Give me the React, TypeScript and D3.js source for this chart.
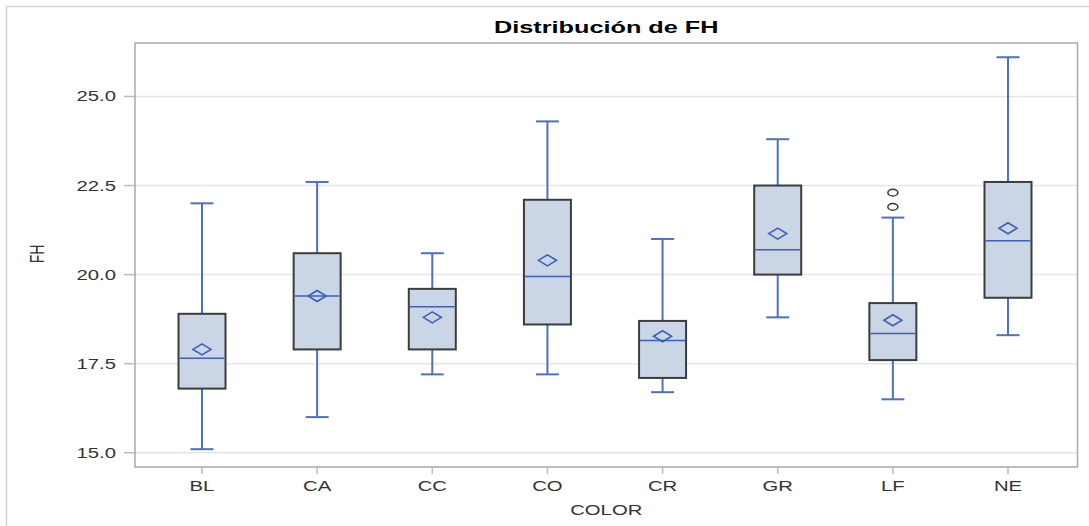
import React from "react";
import * as d3 from "d3";

// box plot stats
const categories = ["BL", "CA", "CC", "CO", "CR", "GR", "LF", "NE"];
const whiskerLow = [15.1, 16.0, 17.2, 17.2, 16.7, 18.8, 16.5, 18.3];
const q1 = [16.8, 17.9, 17.9, 18.6, 17.1, 20.0, 17.6, 19.35];
const median = [17.65, 19.4, 19.1, 19.95, 18.15, 20.7, 18.35, 20.95];
const q3 = [18.9, 20.6, 19.6, 22.1, 18.7, 22.5, 19.2, 22.6];
const whiskerHigh = [22.0, 22.6, 20.6, 24.3, 21.0, 23.8, 21.6, 26.1];
const means = [17.9, 19.4, 18.8, 20.4, 18.27, 21.15, 18.72, 21.3];
const outlierCat = ["LF", "LF"];
const outlierVal = [21.9, 22.3];
const yTicks = [15, 17.5, 20, 22.5, 25];

const W = 1089;
const H = 526;
const SX = 1.45; // the picture is stretched horizontally
const FONT = '"Liberation Sans", Arial, sans-serif';

const App = () => {
  const ref = React.useRef<SVGSVGElement>(null);

  React.useEffect(() => {
    const svg = d3.select(ref.current);
    svg.selectAll("*").remove();

    const left = 135, right = 1077.5, top = 43, bottom = 467;

    const x = d3.scalePoint<string>()
      .domain(categories)
      .range([left + 67, right - 69.5]);
    const y = d3.scaleLinear().domain([14.6, 26.5]).range([bottom, top]);

    const boxW = 47;
    const capW = 23;

    const text = (px: number, py: number, s: string, size: number, anchor: string, weight = "normal", rot = 0, fill = "#333", sx = SX) =>
      svg.append("text")
        .attr("transform", `translate(${px},${py}) scale(${sx},1)` + (rot ? ` rotate(${rot})` : ""))
        .attr("font-family", FONT)
        .attr("font-size", size)
        .attr("font-weight", weight)
        .attr("text-anchor", anchor)
        .attr("fill", fill)
        .text(s);

    // outer frame
    svg.append("rect")
      .attr("x", 6.5).attr("y", 6.5)
      .attr("width", W).attr("height", H)
      .attr("fill", "white")
      .attr("stroke", "#d4d4d4")
      .attr("stroke-width", 1.5);

    // grid
    svg.append("g").selectAll("line")
      .data(yTicks)
      .join("line")
      .attr("x1", left).attr("x2", right)
      .attr("y1", d => y(d)).attr("y2", d => y(d))
      .attr("stroke", "#e6e6e6")
      .attr("stroke-width", 1.5);

    // y ticks
    svg.append("g").selectAll("line")
      .data(yTicks)
      .join("line")
      .attr("x1", left - 11).attr("x2", left)
      .attr("y1", d => y(d)).attr("y2", d => y(d))
      .attr("stroke", "#bdbdbd")
      .attr("stroke-width", 1.5);
    yTicks.forEach(t => text(116, y(t) + 5, d3.format(".1f")(t), 14, "end"));

    // x ticks
    svg.append("g").selectAll("line")
      .data(categories)
      .join("line")
      .attr("x1", d => x(d)!).attr("x2", d => x(d)!)
      .attr("y1", bottom).attr("y2", bottom + 7)
      .attr("stroke", "#bdbdbd")
      .attr("stroke-width", 1.5);
    categories.forEach(c => text(x(c)!, 491, c, 14, "middle"));

    // whiskers
    const g = svg.append("g");
    categories.forEach((c, i) => {
      const cx = x(c)!;
      g.append("line")
        .attr("x1", cx).attr("x2", cx)
        .attr("y1", y(whiskerLow[i])).attr("y2", y(whiskerHigh[i]))
        .attr("stroke", "#4c70c2").attr("stroke-width", 2);
      [whiskerLow[i], whiskerHigh[i]].forEach(v => {
        g.append("line")
          .attr("x1", cx - capW / 2).attr("x2", cx + capW / 2)
          .attr("y1", y(v)).attr("y2", y(v))
          .attr("stroke", "#4c70c2").attr("stroke-width", 2);
      });
      // box
      g.append("rect")
        .attr("x", cx - boxW / 2)
        .attr("y", y(q3[i]))
        .attr("width", boxW)
        .attr("height", y(q1[i]) - y(q3[i]))
        .attr("fill", "#cad5e5")
        .attr("stroke", "#3c3c3c")
        .attr("stroke-width", 2);
      // median
      g.append("line")
        .attr("x1", cx - boxW / 2 + 1).attr("x2", cx + boxW / 2 - 1)
        .attr("y1", y(median[i])).attr("y2", y(median[i]))
        .attr("stroke", "#3b62b5").attr("stroke-width", 1.5);
      // mean diamond
      const my = y(means[i]);
      const p = d3.path();
      p.moveTo(cx - 9, my);
      p.lineTo(cx, my - 5.5);
      p.lineTo(cx + 9, my);
      p.lineTo(cx, my + 5.5);
      p.closePath();
      g.append("path")
        .attr("d", p.toString())
        .attr("fill", "none")
        .attr("stroke", "#3b62b5")
        .attr("stroke-width", 1.6);
    });

    // outliers
    g.selectAll("ellipse")
      .data(outlierVal)
      .join("ellipse")
      .attr("cx", (_, i) => x(outlierCat[i])!)
      .attr("cy", d => y(d))
      .attr("rx", 5).attr("ry", 3.3)
      .attr("fill", "none")
      .attr("stroke", "#333")
      .attr("stroke-width", 1.5);

    // plot frame
    svg.append("rect")
      .attr("x", left).attr("y", top)
      .attr("width", right - left).attr("height", bottom - top)
      .attr("fill", "none")
      .attr("stroke", "#a9a9a9")
      .attr("stroke-width", 1.5);

    // titles
    text((left + right) / 2, 33, "Distribución de FH", 16, "middle", "bold", 0, "#000", 1.58);
    text((left + right) / 2, 515, "COLOR", 14, "middle");
    text(44, 254, "FH", 14, "middle", "normal", -90);
  }, []);

  return (
    <svg
      ref={ref}
      width={W}
      height={H}
      style={{ position: "absolute", left: 0, top: 0, background: "white" }}
    />
  );
};

export default App;
